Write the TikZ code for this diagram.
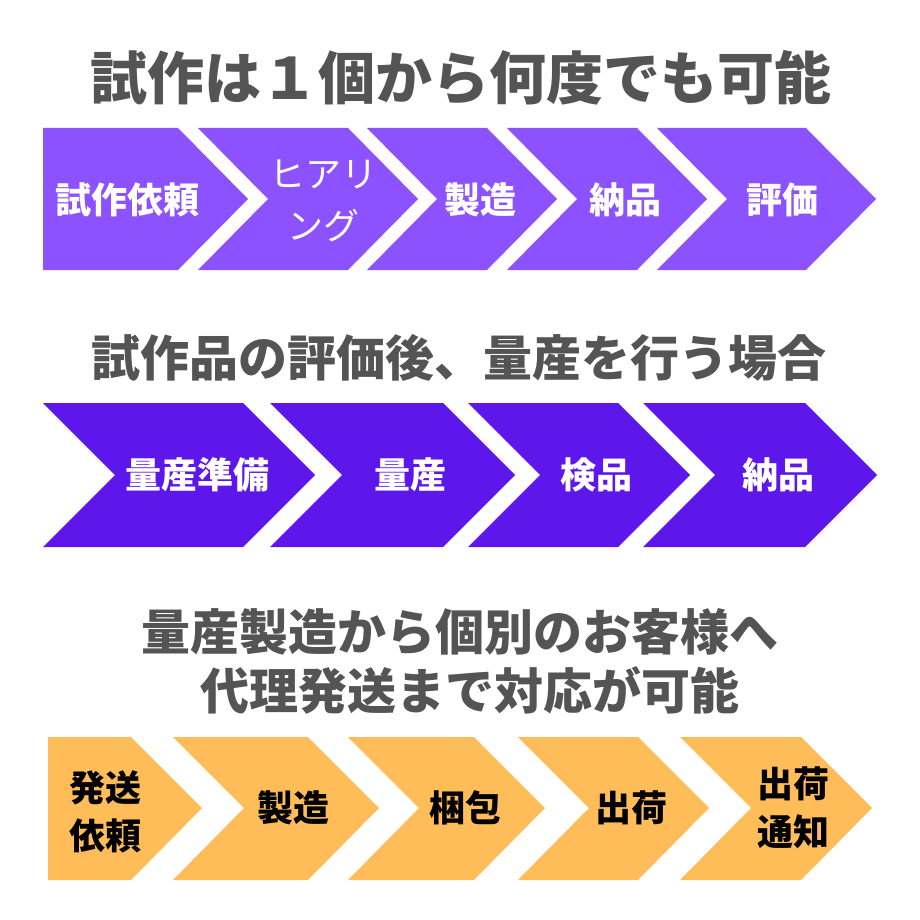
\documentclass[tikz,border=0pt]{standalone}
\usepackage{fontspec}
\newfontfamily\jpfont{Noto Sans CJK JP}
\usepackage{xcolor}
\usepackage{tikz}

\definecolor{titlegray}{HTML}{545454}
\definecolor{lilac}{HTML}{8C52FF}
\definecolor{indigo}{HTML}{5E17EB}
\definecolor{apricot}{HTML}{FFBD59}

\begin{document}
\begin{tikzpicture}[
  x=1pt, y=-1pt,
  title/.style={font=\jpfont\bfseries\fontsize{57}{60}\selectfont, text=titlegray, inner sep=0pt},
  subtitle/.style={title, font=\jpfont\bfseries\fontsize{49}{58}\selectfont},
  label/.style={font=\jpfont\bfseries\fontsize{36}{48}\selectfont, text=white, align=center, inner sep=0pt},
  darklabel/.style={label, text=black},
]
  \useasboundingbox (0,0) rectangle (920,920);

  % titles
  \node[title] (head1) at (461,78) {試作は１個から何度でも可能};
  \node[subtitle] (head2) at (459,358) {試作品の評価後、量産を行う場合};
  \node[subtitle] (head3a) at (460,632) {量産製造から個別のお客様へ};
  \node[subtitle] (head3b) at (470,690) {代理発送まで対応が可能};

  % row 1: prototype flow
  \fill[lilac] (43,128) -- (178,128) -- (248,199) -- (178,270) -- (43,270) -- cycle;
  \foreach \l/\r in {198/348, 367/487, 507/637, 657/806}
    \fill[lilac] (\l,128) -- (\r,128) -- (\r+70,199) -- (\r,270) -- (\l,270) -- (\l+70,199) -- cycle;

  \node[label] (request) at (127,200) {試作依頼};
  \node[label, font=\jpfont\fontsize{36}{52}\selectfont] (hearing) at (323,201) {ヒアリ\\ング};
  \node[label] (make1) at (480,200) {製造};
  \node[label] (deliver1) at (625,200) {納品};
  \node[label] (review) at (782,200) {評価};

  % row 2: mass production
  \foreach \l/\r in {43/243, 270/443, 468/618, 643/805}
    \fill[indigo] (\l,403) -- (\r,403) -- (\r+72,475) -- (\r,547) -- (\l,547) -- (\l+72,475) -- cycle;

  \node[label] (prep) at (197,475) {量産準備};
  \node[label] (mass) at (410,475) {量産};
  \node[label] (inspect) at (596,475) {検品};
  \node[label] (deliver2) at (778,475) {納品};

  % row 3: drop shipping
  \fill[apricot] (48,737) -- (131,737) -- (202,808) -- (131,880) -- (48,880) -- cycle;
  \foreach \l/\r in {173/308, 348/474, 518/638, 680/801}
    \fill[apricot] (\l,737) -- (\r,737) -- (\r+71,808) -- (\r,880) -- (\l,880) -- (\l+71,808) -- cycle;

  \node[darklabel] (order) at (105,812) {発送\\依頼};
  \node[darklabel] (make2) at (293,808) {製造};
  \node[darklabel] (pack) at (465,808) {梱包};
  \node[darklabel] (ship) at (631,808) {出荷};
  \node[darklabel] (notice) at (793,808) {出荷\\通知};
\end{tikzpicture}
\end{document}
